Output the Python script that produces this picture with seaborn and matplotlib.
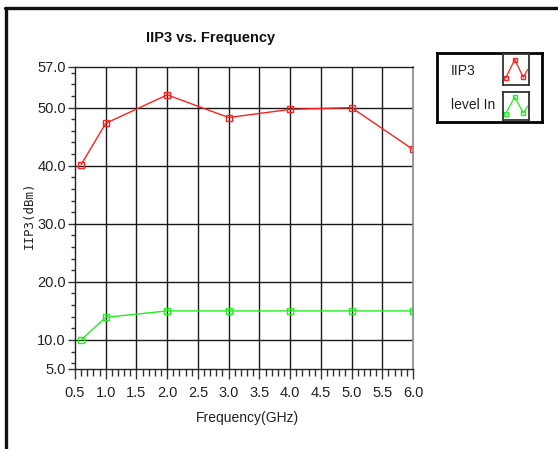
# iip3_plot.py
# IIP3 / input level vs frequency, redrawn from the LabVIEW-style screenshot

import numpy as np
import matplotlib
matplotlib.use('Agg')
import matplotlib.pyplot as plt
import seaborn as sns

sns.set_theme(style='white')
plt.rcParams['font.family'] = ['Liberation Sans', 'DejaVu Sans']

# data
freq_ghz  = [0.6, 1.0, 2.0, 3.0, 4.0, 5.0, 6.0]
iip3_dbm  = [40.2, 47.3, 52.2, 48.3, 49.7, 50.0, 42.8]
level_in  = [10.0, 13.9, 15.0, 15.0, 15.0, 15.0, 15.0]

x_ticks   = [0.5, 1.0, 1.5, 2.0, 2.5, 3.0, 3.5, 4.0, 4.5, 5.0, 5.5, 6.0]
y_ticks   = [5.0, 10.0, 20.0, 30.0, 40.0, 50.0, 57.0]
y_grid    = [10.0, 20.0, 30.0, 40.0, 50.0]
series    = ['IIP3', 'level In']
colors    = ['#ff2020', '#22ee22']

# legend glyph (the little zig-zag in the icon boxes)
icon_x = [0.1, 0.45, 0.78, 0.95]
icon_y = [0.22, 0.82, 0.25, 0.5]

W, H = 558, 449
fig = plt.figure(figsize=(W / 100, H / 100), dpi=100)
fig.patch.set_facecolor('white')


def px(x0, y0, x1, y1):
    """pixel box -> figure fraction rect"""
    return [x0 / W, 1 - y1 / H, (x1 - x0) / W, (y1 - y0) / H]


ax = fig.add_axes(px(75, 67, 413, 369))

for y, c in zip([iip3_dbm, level_in], colors):
    sns.lineplot(x=freq_ghz, y=y, ax=ax, color=c, lw=1.0, marker='s',
                 markersize=5, markerfacecolor='none', markeredgecolor=c,
                 markeredgewidth=1.0)

ax.set_xlim(0.5, 6.0)
ax.set_ylim(5.0, 57.0)
ax.set_xticks(x_ticks)
ax.set_xticklabels([f'{v:.1f}' for v in x_ticks])
ax.set_xticks(np.arange(0.5, 6.01, 0.1), minor=True)
ax.set_yticks(y_ticks)
ax.set_yticklabels([f'{v:.1f}' for v in y_ticks])
ax.set_yticks([v for v in range(6, 57, 2) if v not in (10, 20, 30, 40, 50)], minor=True)

for v in x_ticks[1:-1]:
    ax.axvline(v, color='#1a1a1a', lw=1.0, zorder=0)
for v in y_grid:
    ax.axhline(v, color='#1a1a1a', lw=1.0, zorder=0)

# seaborn 'white' turns the tick marks off, bring them back
ax.tick_params(bottom=True, left=True, which='both')
ax.tick_params(axis='both', which='major', direction='out', length=5, width=1,
               color='#333333', labelsize=10.5, pad=1.5, labelcolor='#222222')
ax.tick_params(axis='both', which='minor', direction='out', length=3, width=1,
               color='#333333')
ax.tick_params(axis='x', which='minor', length=5)
ax.tick_params(axis='x', which='major', length=7, pad=5)

for side in ['left', 'top', 'bottom']:
    ax.spines[side].set_color('#222222')
    ax.spines[side].set_linewidth(1.0)
ax.spines['right'].set_color('#888888')
ax.spines['right'].set_linewidth(1.2)

ax.set_xlabel('')
ax.set_ylabel('')

fig.text(211 / W, 1 - 38 / H, 'IIP3 vs. Frequency', ha='center', va='center',
         fontsize=10.5, fontweight='bold', color='#111111')
fig.text(247 / W, 1 - 418 / H, 'Frequency(GHz)', ha='center', va='center',
         fontsize=10, color='#222222')
fig.text(29 / W, 1 - 215 / H, 'IIP3(dBm)', ha='center', va='center',
         rotation=90, fontsize=9, family='DejaVu Sans Mono', color='#222222')

# legend box
lg = fig.add_axes(px(437, 53, 542, 122))
lg.set_xticks([])
lg.set_yticks([])
for s in lg.spines.values():
    s.set_color('black')
    s.set_linewidth(2.0)
lg.set_zorder(3)
fig.text(451 / W, 1 - 71 / H, series[0], ha='left', va='center', fontsize=10,
         color='#222222', zorder=5)
fig.text(451 / W, 1 - 105 / H, series[1], ha='left', va='center', fontsize=10,
         color='#222222', zorder=5)

for (y0, y1), c in zip([(54, 85), (92, 120)], colors):
    ic = fig.add_axes(px(503, y0, 529, y1))
    ic.set_zorder(4)
    ic.plot(icon_x, icon_y, color=c, lw=0.9, marker='s', markersize=3.5,
            markerfacecolor='none', markeredgecolor=c, markevery=[0, 1, 2])
    ic.set_xlim(0, 1)
    ic.set_ylim(0, 1)
    ic.set_xticks([])
    ic.set_yticks([])
    for s in ic.spines.values():
        s.set_color('#333333')
        s.set_linewidth(1.3)

# panel frame: thick line on top and left only
fig.add_artist(plt.Line2D([5 / W, 1], [1 - 8 / H, 1 - 8 / H], color='#111111',
                          lw=2.4, transform=fig.transFigure))
fig.add_artist(plt.Line2D([6 / W, 6 / W], [0, 1 - 8 / H], color='#111111',
                          lw=2.4, transform=fig.transFigure))

fig.savefig('out.png', dpi=100)
